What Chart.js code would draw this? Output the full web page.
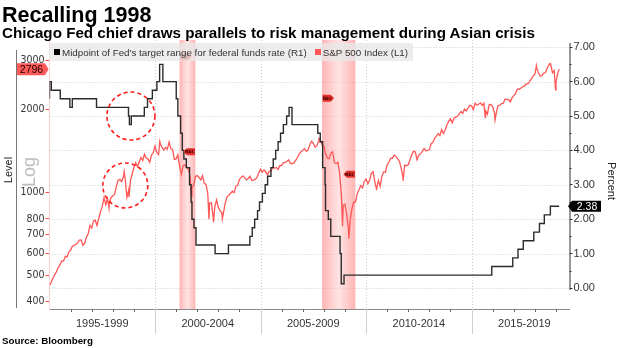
<!DOCTYPE html>
<html>
<head>
<meta charset="utf-8">
<script src="https://cdn.jsdelivr.net/npm/chart.js@4/dist/chart.umd.min.js"></script>
<style>
  html, body { margin: 0; padding: 0; background: #fff; }
  #wrap { position: relative; width: 620px; height: 348px; overflow: hidden; font-family: "Liberation Sans", Arial, sans-serif; }
  #c { position: absolute; left: 0; top: 0; }
  .title { position: absolute; left: 2px; top: 5px; font-weight: bold; font-size: 21.5px; line-height: 1; color: #000; white-space: nowrap; }
  .sub { position: absolute; left: 2px; top: 24.6px; font-weight: bold; font-size: 15.2px; line-height: 1; color: #000; white-space: nowrap; }
  .src { position: absolute; left: 2px; top: 336px; font-weight: bold; font-size: 9.8px; line-height: 1; color: #000; white-space: nowrap; }
  #legend { position: absolute; left: 49px; top: 43px; height: 18px; display: flex; align-items: center;
            background: rgba(232,232,232,0.78); font-size: 9.8px; color: #333; padding: 0 5px 0 5px; white-space: nowrap; }
  #legend .sw { display: inline-block; width: 6px; height: 6px; margin-right: 2px; }
  #legend .item { display: flex; align-items: center; margin-right: 8px; }
  #legend .item:last-child { margin-right: 0; }
</style>
</head>
<body>
<div id="wrap">
  <canvas id="c" width="620" height="348"></canvas>
  <div class="title">Recalling 1998</div>
  <div class="sub">Chicago Fed chief draws parallels to risk management during Asian crisis</div>
  <div class="src">Source: Bloomberg</div>
  <div id="legend"></div>
</div>
<script>
// ---- x-axis periods ----
const periodStarts = [1995, 2000, 2005, 2010, 2015];
const periodLabels = ['1995-1999', '2000-2004', '2005-2009', '2010-2014', '2015-2019'];

// ---- axis ticks ----
const levelTicks = [400, 500, 600, 700, 800, 1000, 2000, 3000];
const percentTicks = [0, 1, 2, 3, 4, 5, 6, 7];

// ---- Fed funds target (midpoint of range), changes by date ----
const fedDates = ['1995-01-01','1995-02-01','1995-07-06','1995-12-19','1996-01-31','1997-03-25',
  '1998-09-29','1998-10-15','1998-11-17','1999-06-30','1999-08-24','1999-11-16',
  '2000-02-02','2000-03-21','2000-05-16','2001-01-03','2001-01-31','2001-03-20','2001-04-18',
  '2001-05-15','2001-06-27','2001-08-21','2001-09-17','2001-10-02','2001-11-06','2001-12-11',
  '2002-11-06','2003-06-25','2004-06-30','2004-08-10','2004-09-21','2004-11-10','2004-12-14',
  '2005-02-02','2005-03-22','2005-05-03','2005-06-30','2005-08-09','2005-09-20','2005-11-01',
  '2005-12-13','2006-01-31','2006-03-28','2006-05-10','2006-06-29','2007-09-18','2007-10-31',
  '2007-12-11','2008-01-22','2008-01-30','2008-03-18','2008-04-30','2008-10-08','2008-10-29',
  '2008-12-16','2015-12-16','2016-12-14','2017-03-15','2017-06-14','2017-12-13','2018-03-21',
  '2018-06-13','2018-09-26','2018-12-19','2019-02-25'];
const fedRates = [5.5,6.0,5.75,5.5,5.25,5.5,
  5.25,5.0,4.75,5.0,5.25,5.5,
  5.75,6.0,6.5,6.0,5.5,5.0,4.5,
  4.0,3.75,3.5,3.0,2.5,2.0,1.75,
  1.25,1.0,1.25,1.5,1.75,2.0,2.25,
  2.5,2.75,3.0,3.25,3.5,3.75,4.0,
  4.25,4.5,4.75,5.0,5.25,4.75,4.5,
  4.25,3.5,3.0,2.25,2.0,1.5,1.0,
  0.125,0.375,0.625,0.875,1.125,1.375,1.625,
  1.875,2.125,2.375,2.375];

// ---- S&P 500: opening level, month-end closes from Jan 1995, a few intra-month extremes, last value ----
const spxStartDate = '1995-01-03';
const spxStartValue = 459.1;
const spxMonthly = [
  470.4,487.4,500.7,514.7,533.4,544.8,562.1,561.9,584.4,581.5,605.4,615.9,
  636.0,640.4,645.5,654.2,669.1,670.6,639.9,652.0,687.3,705.3,757.0,740.7,
  786.2,790.8,757.1,801.3,848.3,885.1,954.3,899.5,947.3,914.6,955.4,970.4,
  980.3,1049.3,1101.8,1111.8,1090.8,1133.8,1120.7,957.3,1017.0,1098.7,1163.6,1229.2,
  1279.6,1238.3,1286.4,1335.2,1301.8,1372.7,1328.7,1320.4,1282.7,1362.9,1388.9,1469.3,
  1394.5,1366.4,1498.6,1452.4,1420.6,1454.6,1430.8,1517.7,1436.5,1429.4,1315.0,1320.3,
  1366.0,1239.9,1160.3,1249.5,1255.8,1224.4,1211.2,1133.6,1040.9,1059.8,1139.5,1148.1,
  1130.2,1106.7,1147.4,1076.9,1067.1,989.8,911.6,916.1,815.3,885.8,936.3,879.8,
  855.7,841.2,848.2,916.9,963.6,974.5,990.3,1008.0,996.0,1050.7,1058.2,1111.9,
  1131.1,1144.9,1126.2,1107.3,1120.7,1140.8,1101.7,1104.2,1114.6,1130.2,1173.8,1211.9,
  1181.3,1203.6,1180.6,1156.9,1191.5,1191.3,1234.2,1220.3,1228.8,1207.0,1249.5,1248.3,
  1280.1,1280.7,1294.9,1310.6,1270.1,1270.2,1276.7,1303.8,1335.9,1377.9,1400.6,1418.3,
  1438.2,1406.8,1420.9,1482.4,1530.6,1503.4,1455.3,1474.0,1526.8,1549.4,1481.1,1468.4,
  1378.6,1330.6,1322.7,1385.6,1400.4,1280.0,1267.4,1282.8,1166.4,968.8,896.2,903.3,
  825.9,735.1,797.9,872.8,919.1,919.3,987.5,1020.6,1057.1,1036.2,1095.6,1115.1,
  1073.9,1104.5,1169.4,1186.7,1089.4,1030.7,1101.6,1049.3,1141.2,1183.3,1180.6,1257.6,
  1286.1,1327.2,1325.8,1363.6,1345.2,1320.6,1292.3,1218.9,1131.4,1253.3,1247.0,1257.6,
  1312.4,1365.7,1408.5,1397.9,1310.3,1362.2,1379.3,1406.6,1440.7,1412.2,1416.2,1426.2,
  1498.1,1514.7,1569.2,1597.6,1630.7,1606.3,1685.7,1633.0,1681.6,1756.5,1805.8,1848.4,
  1782.6,1859.5,1872.3,1884.0,1923.6,1960.2,1930.7,2003.4,1972.3,2018.1,2067.6,2058.9,
  1995.0,2104.5,2067.9,2085.5,2107.4,2063.1,2103.8,1972.2,1920.0,2079.4,2080.4,2043.9,
  1940.2,1932.2,2059.7,2065.3,2097.0,2098.9,2173.6,2171.0,2168.3,2126.2,2198.8,2238.8,
  2278.9,2363.6,2362.7,2384.2,2411.8,2423.4,2470.3,2471.7,2519.4,2575.3,2647.6,2673.6,
  2823.8,2713.8,2640.9,2648.1,2705.3,2718.4,2816.3,2901.5,2914.0,2711.7,2760.2,2506.9,
  2704.1];
const spxExtremeDates = ['1997-10-27','1998-07-17','1998-10-08','2000-03-24','2001-09-21','2002-07-23',
  '2002-10-09','2003-03-11','2007-10-09','2008-11-20','2009-03-09','2010-07-02','2011-10-03',
  '2015-08-25','2016-02-11','2018-01-26','2018-09-20','2018-12-24'];
const spxExtremeValues = [877, 1187, 959, 1527, 966, 797, 777, 800, 1565, 752, 677, 1022, 1099,
  1867, 1829, 2873, 2931, 2351];
const spxLastDate = '2019-02-25';
const spxLastValue = 2796;

// ---- recessions and their flag levels ----
const recStart = ['2001-03-01', '2007-12-01'];
const recEnd = ['2001-11-30', '2009-06-30'];
const recStartLevel = [3100, 2190];
const recEndLevel = [1400, 1160];

// ---- highlighted 1998 episodes ----
const circleDates = ['1998-11-10', '1998-08-05'];
const circleValues = [5.0, 1057];
const circleAxes = ['y1', 'y'];

const seriesNames = ["Midpoint of Fed's target range for federal funds rate (R1)", 'S&P 500 Index (L1)'];
const fedColor = '#2b2b2b';
const spxColor = '#ff5656';

function yearFrac(s) {
  const [y, m, d] = s.split('-').map(Number);
  const a = Date.UTC(y, 0, 1), b = Date.UTC(y + 1, 0, 1);
  return y + (Date.UTC(y, m - 1, d) - a) / (b - a);
}

const fedPoints = fedDates.map((d, i) => ({ x: yearFrac(d), y: fedRates[i] }));
let spxPoints = [{ x: yearFrac(spxStartDate), y: spxStartValue }];
spxMonthly.forEach((v, i) => spxPoints.push({ x: 1995 + (i + 1) / 12, y: v }));
spxExtremeDates.forEach((d, i) => spxPoints.push({ x: yearFrac(d), y: spxExtremeValues[i] }));
spxPoints.push({ x: yearFrac(spxLastDate), y: spxLastValue });
spxPoints.sort((a, b) => a.x - b.x);

// legend
const legendEl = document.getElementById('legend');
[[seriesNames[0], '#000'], [seriesNames[1], spxColor]].forEach(([t, c]) => {
  const it = document.createElement('span'); it.className = 'item';
  const sw = document.createElement('span'); sw.className = 'sw'; sw.style.background = c;
  const tx = document.createElement('span'); tx.textContent = t;
  it.appendChild(sw); it.appendChild(tx); legendEl.appendChild(it);
});

function flag(ctx, x0, y, dir) {
  // dir = 1: box starts at x0 and points right; dir = -1: box ends at x0 and points left
  const w = 8, tip = 3.5, h = 3.5;
  ctx.beginPath();
  if (dir === 1) {
    ctx.moveTo(x0, y - h); ctx.lineTo(x0 + w, y - h); ctx.lineTo(x0 + w + tip, y);
    ctx.lineTo(x0 + w, y + h); ctx.lineTo(x0, y + h);
  } else {
    ctx.moveTo(x0, y - h); ctx.lineTo(x0 - w, y - h); ctx.lineTo(x0 - w - tip, y);
    ctx.lineTo(x0 - w, y + h); ctx.lineTo(x0, y + h);
  }
  ctx.closePath();
  ctx.fillStyle = '#e8302c'; ctx.fill();
  ctx.fillStyle = '#3a0000'; ctx.font = 'bold 4.5px "DejaVu Sans", sans-serif';
  ctx.textAlign = 'center'; ctx.textBaseline = 'middle';
  ctx.fillText('REC', dir === 1 ? x0 + w / 2 + 1 : x0 - w / 2 - 1, y + 0.3);
}

const decor = {
  id: 'decor',
  beforeDatasetsDraw(chart) {
    const { ctx, chartArea: a, scales: { x, y1 } } = chart;
    ctx.save();
    ctx.strokeStyle = '#cdcdcd'; ctx.lineWidth = 1; ctx.setLineDash([1, 2]);
    // dotted grid: period boundaries and percent levels
    periodStarts.slice(1).forEach(v => {
      const px = Math.round(x.getPixelForValue(v)) + 0.5;
      ctx.beginPath(); ctx.moveTo(px, a.top); ctx.lineTo(px, a.bottom); ctx.stroke();
    });
    percentTicks.forEach(v => {
      const py = Math.round(y1.getPixelForValue(v)) + 0.5;
      ctx.beginPath(); ctx.moveTo(a.left, py); ctx.lineTo(a.right, py); ctx.stroke();
    });
    ctx.setLineDash([]);
    recStart.forEach((s, i) => {
      const x0 = x.getPixelForValue(yearFrac(s)), x1 = x.getPixelForValue(yearFrac(recEnd[i]));
      const g = ctx.createLinearGradient(x0, 0, x1, 0);
      g.addColorStop(0, 'rgba(255,130,130,0.6)');
      g.addColorStop(0.5, 'rgba(255,205,205,0.55)');
      g.addColorStop(1, 'rgba(255,130,130,0.6)');
      ctx.fillStyle = g;
      ctx.fillRect(x0, a.top, x1 - x0, a.bottom - a.top);
    });
    ctx.restore();
  },
  afterDatasetsDraw(chart) {
    const { ctx, chartArea: a, scales: { x, y, y1 } } = chart;
    ctx.save();
    // recession flags
    recStart.forEach((s, i) => {
      const x0 = x.getPixelForValue(yearFrac(s)), x1 = x.getPixelForValue(yearFrac(recEnd[i]));
      flag(ctx, x0 + 0.5, y.getPixelForValue(recStartLevel[i]), 1);
      flag(ctx, x1 - 0.5, y.getPixelForValue(recEndLevel[i]), -1);
    });
    // dashed circles around 1998
    ctx.strokeStyle = '#ff1f1f'; ctx.lineWidth = 1.6; ctx.setLineDash([4, 3]);
    circleDates.forEach((d, i) => {
      const sc = circleAxes[i] === 'y' ? y : y1;
      const cx = x.getPixelForValue(yearFrac(d)), cy = sc.getPixelForValue(circleValues[i]);
      ctx.beginPath(); ctx.arc(cx, cy, i === 0 ? 24 : 22.5, 0, Math.PI * 2); ctx.stroke();
    });
    ctx.setLineDash([]);

    // x axis: year ticks and period separators
    ctx.strokeStyle = '#cfcfcf'; ctx.lineWidth = 1;
    periodStarts.slice(1).forEach(v => {
      const px = Math.round(x.getPixelForValue(v)) + 0.5;
      ctx.beginPath(); ctx.moveTo(px, a.bottom); ctx.lineTo(px, a.bottom + 25); ctx.stroke();
    });
    ctx.strokeStyle = '#666';
    for (let yr = 1996; yr <= 2019; yr++) {
      if (yr % 5 === 0) continue;
      const px = Math.round(x.getPixelForValue(yr)) + 0.5;
      ctx.beginPath(); ctx.moveTo(px, a.bottom); ctx.lineTo(px, a.bottom + 3); ctx.stroke();
    }
    // right axis line and minor ticks
    ctx.strokeStyle = '#333';
    ctx.beginPath(); ctx.moveTo(a.right + 0.5, 43); ctx.lineTo(a.right + 0.5, y1.getPixelForValue(0) + 2); ctx.stroke();
    for (let v = 0.5; v < 7; v += 1) {
      const py = Math.round(y1.getPixelForValue(v)) + 0.5;
      ctx.beginPath(); ctx.moveTo(a.right, py); ctx.lineTo(a.right + 2, py); ctx.stroke();
    }
    // left bracket line
    ctx.strokeStyle = '#777';
    ctx.beginPath(); ctx.moveTo(16.5, 50); ctx.lineTo(16.5, 308); ctx.stroke();

    // axis titles
    ctx.fillStyle = '#222'; ctx.textAlign = 'center'; ctx.textBaseline = 'middle';
    ctx.font = '11px "Liberation Sans", Arial, sans-serif';
    ctx.save(); ctx.translate(9, 170); ctx.rotate(-Math.PI / 2); ctx.fillText('Level', 0, 0); ctx.restore();
    ctx.save(); ctx.translate(611, 181); ctx.rotate(Math.PI / 2); ctx.fillText('Percent', 0, 0); ctx.restore();
    ctx.fillStyle = '#bdbdbd'; ctx.font = '18px "Liberation Sans", Arial, sans-serif';
    ctx.save(); ctx.translate(30, 172); ctx.rotate(-Math.PI / 2); ctx.fillText('Log', 0, 0); ctx.restore();

    // last value tags
    const sy = y.getPixelForValue(spxLastValue);
    ctx.fillStyle = '#ff5a5a';
    ctx.beginPath(); ctx.moveTo(17, sy - 6); ctx.lineTo(45, sy - 6); ctx.lineTo(48.5, sy);
    ctx.lineTo(45, sy + 6); ctx.lineTo(17, sy + 6); ctx.closePath(); ctx.fill();
    ctx.fillStyle = '#1e0000'; ctx.font = '10.5px "Liberation Sans", Arial, sans-serif';
    ctx.fillText(String(spxLastValue), 31.5, sy + 0.5);

    const lastFed = fedRates[fedRates.length - 1];
    const fy = y1.getPixelForValue(lastFed);
    ctx.fillStyle = '#000';
    ctx.beginPath(); ctx.moveTo(a.right - 1.5, fy); ctx.lineTo(a.right + 2.5, fy - 5.5); ctx.lineTo(601, fy - 5.5);
    ctx.lineTo(601, fy + 5.5); ctx.lineTo(a.right + 2.5, fy + 5.5); ctx.closePath(); ctx.fill();
    ctx.fillStyle = '#fff'; ctx.font = '10.5px "Liberation Sans", Arial, sans-serif';
    ctx.fillText(lastFed.toFixed(2), 587, fy + 0.5);
    ctx.restore();
  }
};

new Chart(document.getElementById('c'), {
  type: 'line',
  data: {
    datasets: [
      { label: seriesNames[0], data: fedPoints, yAxisID: 'y1', borderColor: fedColor, borderWidth: 1.4,
        stepped: 'after', pointRadius: 0, fill: false },
      { label: seriesNames[1], data: spxPoints, yAxisID: 'y', borderColor: spxColor, borderWidth: 1.3,
        tension: 0, pointRadius: 0, fill: false }
    ]
  },
  options: {
    responsive: false, animation: false, devicePixelRatio: 1,
    layout: { padding: { top: 40, left: 0, right: 0, bottom: 0 } },
    plugins: { legend: { display: false }, tooltip: { enabled: false } },
    scales: {
      x: {
        type: 'linear', min: 1995, max: 2019.64,
        afterFit(s) { s.height = 39; },
        afterBuildTicks(s) { s.ticks = periodStarts.map(p => ({ value: p + 2.5 })); },
        grid: { display: true, drawOnChartArea: false, drawTicks: false, color: 'rgba(0,0,0,0)' },
        border: { display: true, color: '#8a8a8a', width: 1 },
        ticks: { autoSkip: false, maxRotation: 0, padding: 8, color: '#333',
                 font: { family: '"Liberation Sans", Arial, sans-serif', size: 11 },
                 callback: (v, i) => periodLabels[i] }
      },
      y: {
        type: 'logarithmic', position: 'left', min: 376.3, max: 3567,
        afterFit(s) { s.width = 49.5; },
        afterBuildTicks(s) { s.ticks = levelTicks.map(v => ({ value: v })); },
        grid: { drawOnChartArea: false, drawTicks: true, tickLength: 4, tickColor: '#ff4a4a', color: '#ff4a4a' },
        border: { display: true, color: '#ffd0d0', width: 1 },
        ticks: { padding: 1, color: '#333', autoSkip: false,
                 font: { family: '"Liberation Sans Narrow", "Arial Narrow", "DejaVu Sans Condensed", sans-serif', size: 10.5 },
                 callback: v => String(v) }
      },
      y1: {
        type: 'linear', position: 'right', min: -0.61, max: 7.21,
        afterFit(s) { s.width = 50.5; },
        afterBuildTicks(s) { s.ticks = percentTicks.map(v => ({ value: v })); },
        grid: { drawOnChartArea: false, drawTicks: true, tickLength: 3, color: '#333', tickColor: '#333' },
        border: { display: false },
        ticks: { padding: 1, color: '#333', autoSkip: false,
                 font: { family: '"Liberation Sans", Arial, sans-serif', size: 11 },
                 callback: v => v.toFixed(2) }
      }
    }
  },
  plugins: [decor]
});
</script>
</body>
</html>
